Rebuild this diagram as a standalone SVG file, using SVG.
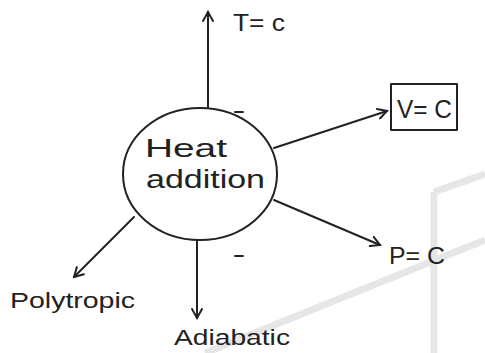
<svg xmlns="http://www.w3.org/2000/svg" width="485" height="353" viewBox="0 0 485 353">
<style>
.ln{stroke:#222;stroke-width:2;fill:none;stroke-linecap:round;stroke-linejoin:round}
.t{font-family:"Liberation Sans",Arial,sans-serif;fill:#222}
.bg{stroke:#e6e6e6;stroke-width:7;fill:none}
</style>
<defs>
<marker id="ah" viewBox="0 0 12 12" refX="10" refY="6" markerWidth="12" markerHeight="12" markerUnits="userSpaceOnUse" orient="auto">
<path d="M1,1 L10,6 L1,11" fill="none" stroke="#222" stroke-width="2" stroke-linecap="round"/>
</marker>
</defs>
<rect width="485" height="353" fill="#fff"/>
<g id="background">
<path class="bg" d="M205,353 L485,240"/>
<path class="bg" d="M434,192 L434,353 M434,192 L485,174"/>
</g>
<g id="connectors">
<path class="ln" d="M208,107 L208,12" marker-end="url(#ah)"/>
<path class="ln" d="M274,148 L387,111" marker-end="url(#ah)"/>
<path class="ln" d="M274,200 L380,245" marker-end="url(#ah)"/>
<path class="ln" d="M134,217 L74,277" marker-end="url(#ah)"/>
<path class="ln" d="M197,240 L197,318" marker-end="url(#ah)"/>
<path class="ln" d="M235,112 L243,112 M235,256 L243,256"/>
</g>
<g id="heat-addition">
<ellipse class="ln" cx="200" cy="174" rx="77" ry="66"/>
<text class="t" x="145" y="157" font-size="25" textLength="82" lengthAdjust="spacingAndGlyphs">Heat</text>
<text class="t" x="146" y="188" font-size="25" textLength="119" lengthAdjust="spacingAndGlyphs">addition</text>
</g>
<g id="t-const">
<text class="t" x="233" y="31" font-size="23" textLength="52" lengthAdjust="spacingAndGlyphs">T= c</text>
</g>
<g id="v-const">
<rect class="ln" x="391" y="84" width="66" height="46"/>
<text class="t" x="397" y="118" font-size="26" textLength="55" lengthAdjust="spacingAndGlyphs">V= C</text>
</g>
<g id="p-const">
<text class="t" x="389" y="264" font-size="24" textLength="56" lengthAdjust="spacingAndGlyphs">P= C</text>
</g>
<g id="polytropic">
<text class="t" x="10" y="308" font-size="22" textLength="125" lengthAdjust="spacingAndGlyphs">Polytropic</text>
</g>
<g id="adiabatic">
<text class="t" x="174" y="345" font-size="22" textLength="116" lengthAdjust="spacingAndGlyphs">Adiabatic</text>
</g>
</svg>
